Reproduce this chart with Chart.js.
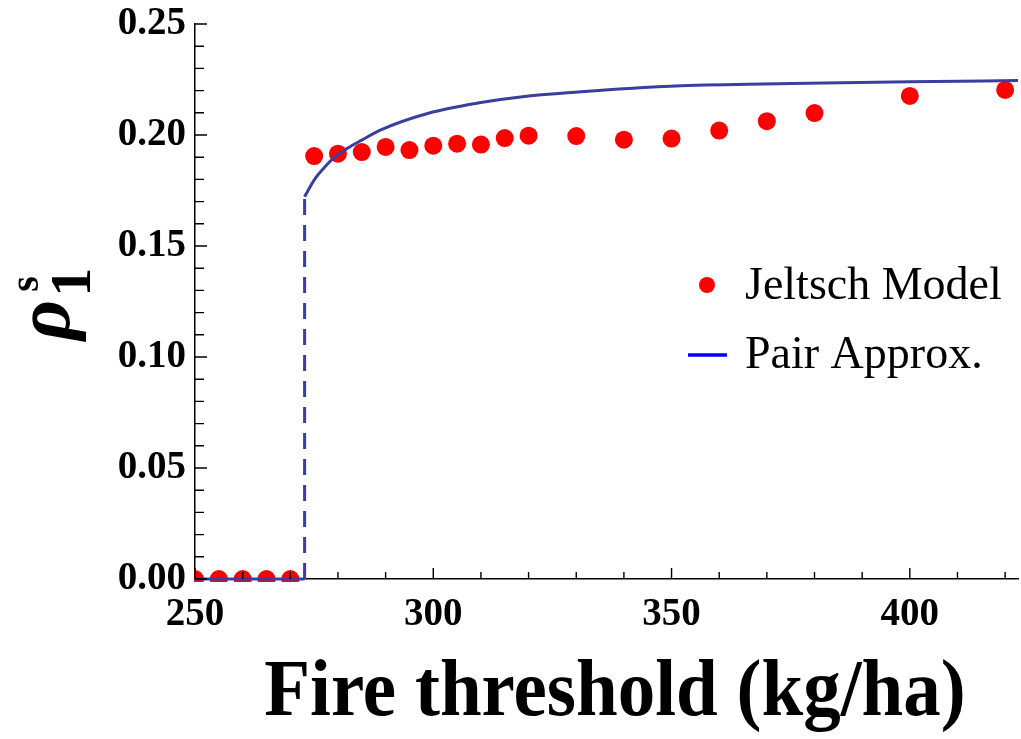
<!DOCTYPE html>
<html>
<head>
<meta charset="utf-8">
<script src="https://cdn.jsdelivr.net/npm/chart.js@4.4.1/dist/chart.umd.min.js"></script>
<style>
  html, body { margin: 0; padding: 0; background: #fff; overflow: hidden; }
  #wrap { width: 1021px; height: 739px; }
  canvas { display: block; }
</style>
</head>
<body>
<div id="wrap"><canvas id="chart" width="1021" height="739"></canvas></div>
<script>
// Jeltsch model (simulation) points
const modelX = [250, 255, 260, 265, 270, 275, 280, 285, 290, 295, 300, 305, 310, 315, 320, 330, 340, 350, 360, 370, 380, 400, 420];
const modelY = [0, 0, 0, 0, 0, 0.1905, 0.1916, 0.1923, 0.1946, 0.1932, 0.1952, 0.1961, 0.1957, 0.1986, 0.1997, 0.1995, 0.1979, 0.1984, 0.2020, 0.2062, 0.2099, 0.2176, 0.2203];

// pair approximation, upper branch
const pairX = [273, 275, 277, 279, 282, 285, 289, 299, 310, 320, 331, 341, 352, 375, 400, 423];
const pairY = [0.1722, 0.1797, 0.1850, 0.1895, 0.1940, 0.1977, 0.2023, 0.2098, 0.2146, 0.2176, 0.2195, 0.2210, 0.2222, 0.2232, 0.2240, 0.2245];

// pair approximation, zero branch and the jump at the threshold
const zeroX = [250, 273];
const zeroY = [0, 0];
const jumpX = [273, 273];
const jumpY = [0, 0.1722];

const seriesNames = ["Jeltsch Model", "Pair Approx."];
const xTitle = "Fire threshold (kg/ha)";
const xTickLabels = [250, 300, 350, 400];
const yTickLabels = [0.00, 0.05, 0.10, 0.15, 0.20, 0.25];

const toPoints = (xs, ys) => xs.map((x, i) => ({ x: x, y: ys[i] }));

const isYMajor = v => yTickLabels.some(t => Math.abs(t - v) < 1e-6);
const isXMajor = v => xTickLabels.some(t => Math.abs(t - v) < 1e-6);

const serif = "'Liberation Serif', 'Times New Roman', serif";

// ticks point into the plot, like Mathematica frames
const inwardTicks = {
  id: "inwardTicks",
  afterDatasetsDraw(chart) {
    const { ctx, chartArea, scales } = chart;
    ctx.save();
    ctx.strokeStyle = "#000";
    ctx.lineWidth = 1.4;
    ctx.beginPath();
    scales.x.ticks.forEach(t => {
      const px = scales.x.getPixelForValue(t.value);
      const len = isXMajor(t.value) ? 11 : 7;
      ctx.moveTo(px, chartArea.bottom);
      ctx.lineTo(px, chartArea.bottom - len);
    });
    scales.y.ticks.forEach(t => {
      const py = scales.y.getPixelForValue(t.value);
      const len = isYMajor(t.value) ? 12 : 9;
      ctx.moveTo(chartArea.left, py);
      ctx.lineTo(chartArea.left + len, py);
    });
    ctx.stroke();
    ctx.restore();
  }
};

// legend inside the plot, axis titles
const extras = {
  id: "extras",
  afterDraw(chart) {
    const { ctx } = chart;
    ctx.save();

    // legend
    ctx.fillStyle = "#ff0000";
    ctx.beginPath();
    ctx.arc(707, 285, 8, 0, Math.PI * 2);
    ctx.fill();
    ctx.strokeStyle = "#0000ff";
    ctx.lineWidth = 3.5;
    ctx.beginPath();
    ctx.moveTo(688, 355);
    ctx.lineTo(727, 355);
    ctx.stroke();
    ctx.fillStyle = "#000";
    ctx.font = "46px " + serif;
    ctx.textBaseline = "alphabetic";
    ctx.fillText(seriesNames[0], 745, 299);
    ctx.fillText(seriesNames[1], 745, 368);

    // x title
    ctx.save();
    ctx.translate(615, 715);
    ctx.scale(1, 1.06);
    ctx.textAlign = "center";
    ctx.font = "bold 75px " + serif;
    ctx.fillText(xTitle, 0, 0);
    ctx.restore();

    // y title: rho_1^s
    ctx.translate(69, 340);
    ctx.rotate(-Math.PI / 2);
    ctx.font = "italic bold 78px " + serif;
    ctx.fillText("ρ", 0, 0);
    const w = ctx.measureText("ρ").width;
    ctx.font = "bold 58px " + serif;
    ctx.fillText("1", w + 3, 21);
    ctx.font = "bold 40px " + serif;
    ctx.fillText("s", w + 8, -31);
    ctx.restore();
  }
};

new Chart(document.getElementById("chart"), {
  type: "scatter",
  data: {
    datasets: [
      {
        label: seriesNames[1],
        data: toPoints(pairX, pairY),
        showLine: true,
        borderColor: "#3b3e9c",
        borderWidth: 3,
        pointRadius: 0,
        cubicInterpolationMode: "monotone",
        order: 1
      },
      {
        label: "zero branch",
        data: toPoints(zeroX, zeroY),
        showLine: true,
        borderColor: "#3b3e9c",
        borderWidth: 3,
        pointRadius: 0,
        clip: 4,
        order: 1
      },
      {
        label: "jump",
        data: toPoints(jumpX, jumpY),
        showLine: true,
        borderColor: "#3b3e9c",
        borderWidth: 3,
        borderDash: [16, 10],
        pointRadius: 0,
        order: 1
      },
      {
        label: seriesNames[0],
        data: toPoints(modelX, modelY),
        backgroundColor: "#ff0000",
        borderWidth: 0,
        pointRadius: 9,
        pointHoverRadius: 9,
        clip: { left: 1, top: 10, right: 10, bottom: 3 },
        order: 2
      }
    ]
  },
  options: {
    responsive: false,
    animation: false,
    layout: { autoPadding: false, padding: { left: 0, right: 3, top: 24, bottom: 0 } },
    plugins: {
      legend: { display: false },
      tooltip: { enabled: false }
    },
    scales: {
      x: {
        type: "linear",
        min: 250,
        max: 422.7,
        afterFit: s => { s.height = 160; s.paddingLeft = 0; s.paddingRight = 0; },
        border: { display: true, color: "#000", width: 1.5 },
        grid: { drawOnChartArea: false, drawTicks: false, color: "rgba(0,0,0,0)" },
        ticks: {
          stepSize: 10,
          includeBounds: false,
          autoSkip: false,
          maxRotation: 0,
          padding: 13,
          color: "#000",
          font: { family: serif, size: 39, weight: "bold" },
          callback: v => isXMajor(v) ? String(Math.round(v)) : ""
        }
      },
      y: {
        type: "linear",
        min: 0,
        max: 0.25,
        afterFit: s => { s.width = 195; s.paddingTop = 0; s.paddingBottom = 0; },
        border: { display: true, color: "#000", width: 1.5 },
        grid: { drawOnChartArea: false, drawTicks: false, color: "rgba(0,0,0,0)" },
        ticks: {
          stepSize: 0.01,
          autoSkip: false,
          padding: 9,
          color: "#000",
          font: { family: serif, size: 39, weight: "bold" },
          callback: v => isYMajor(v) ? v.toFixed(2) : ""
        }
      }
    }
  },
  plugins: [inwardTicks, extras]
});
</script>
</body>
</html>
